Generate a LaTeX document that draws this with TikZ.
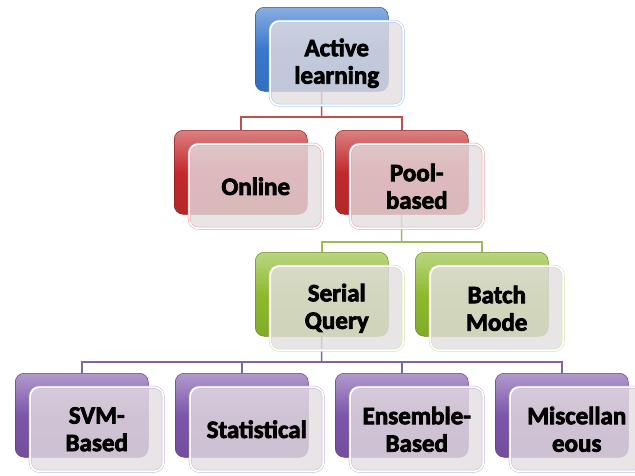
\documentclass[tikz,border=0pt]{standalone}
\usepackage{fontspec}
\setmainfont{Carlito}[BoldFeatures={FakeBold=3}]
\pgfdeclarelayer{paper}
\pgfdeclarelayer{links}
\pgfsetlayers{paper,links,main}
\definecolor{blueback}{HTML}{3A78CD}
\definecolor{redback}{HTML}{C22A2D}
\definecolor{greenback}{HTML}{8DBA2D}
\definecolor{purpleback}{HTML}{7D55AA}
\definecolor{redlink}{HTML}{C0504D}
\definecolor{greenlink}{HTML}{9BBB59}
\definecolor{purplelink}{HTML}{8064A2}
\definecolor{frontfill}{HTML}{E4DEE0}
\begin{document}
\begin{tikzpicture}[x=1pt,y=-1pt,
  backbox/.style={rounded corners=9pt, minimum width=133pt, minimum height=84pt,
    anchor=north west, inner sep=0pt, draw=#1!75!black, line width=0.5pt,
    top color=#1!60!white, bottom color=#1!92!black, middle color=#1},
  frontbox/.style={rounded corners=9pt, minimum width=133pt, minimum height=84pt,
    anchor=north west, inner sep=0pt, align=center,
    font=\fontsize{25}{27.5}\selectfont\bfseries,
    fill=frontfill, fill opacity=0.8, text opacity=1,
    draw=#1!45!white, double=white, double distance=1.8pt, line width=0.5pt},
  link/.style={draw=#1, line width=1.5pt}]

\begin{pgfonlayer}{paper}
  \fill[white] (0,0) rectangle (635,475);
\end{pgfonlayer}
\useasboundingbox (0,0) rectangle (635,475);
\clip (0,0) rectangle (635,475);

% level 0
\node[backbox=blueback] (actB) at (255,7) {};
\node[frontbox=blueback] (act) at (270,21) {Active\\learning};

% level 1
\node[backbox=redback] (onlB) at (174,130) {};
\node[frontbox=redback] (onl) at (189,144) {Online};
\node[backbox=redback] (poolB) at (335,130) {};
\node[frontbox=redback] (pool) at (350,144) {Pool-\\based};

% level 2
\node[backbox=greenback] (serB) at (255,252) {};
\node[frontbox=greenback] (ser) at (270,266) {Serial\\Query};
\node[backbox=greenback] (batB) at (415,252) {};
\node[frontbox=greenback] (bat) at (430,266) {Batch\\Mode};

% level 3
\node[backbox=purpleback] (svmB) at (15,373) {};
\node[frontbox=purpleback] (svm) at (30,387) {SVM-\\Based};
\node[backbox=purpleback] (statB) at (175,373) {};
\node[frontbox=purpleback] (stat) at (190,387) {Statistical};
\node[backbox=purpleback] (ensB) at (335,373) {};
\node[frontbox=purpleback] (ens) at (350,387) {Ensemble-\\Based};
\node[backbox=purpleback] (miscB) at (495,373) {};
\node[frontbox=purpleback] (misc) at (510,387) {Miscellan\\eous};

% bus points of the connectors
\coordinate (busA) at (321.5,117);
\coordinate (busB) at (401.5,242);
\coordinate (busC) at (321.5,362);

\begin{pgfonlayer}{links}
  \draw[link=redlink] (actB.center) -- (busA);
  \draw[link=redlink] (onlB.north) |- (busA) -| (poolB.north);
  \draw[link=greenlink] (poolB.center) -- (busB);
  \draw[link=greenlink] (serB.north) |- (busB) -| (batB.north);
  \draw[link=purplelink] (serB.center) -- (busC);
  \draw[link=purplelink] (svmB.north) |- (busC) -| (miscB.north);
  \draw[link=purplelink] (statB.north) -- (statB.north |- busC);
  \draw[link=purplelink] (ensB.north) -- (ensB.north |- busC);
\end{pgfonlayer}
\end{tikzpicture}
\end{document}
